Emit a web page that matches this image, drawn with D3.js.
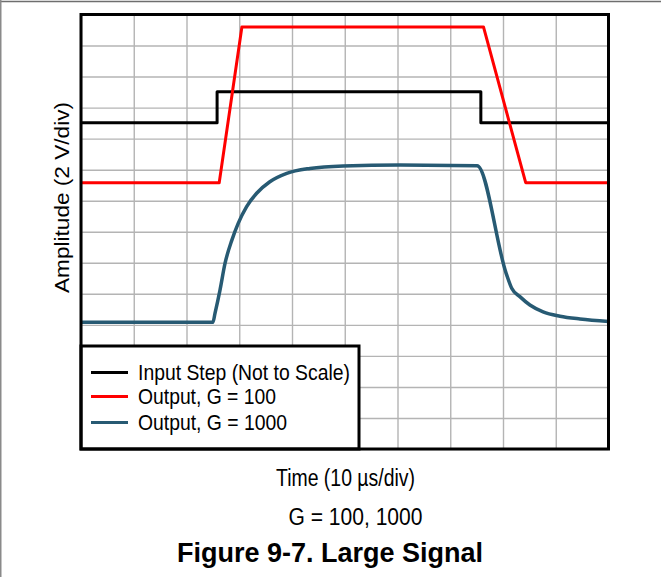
<!DOCTYPE html>
<meta charset="utf-8">
<script src="https://d3js.org/d3.v7.min.js"></script>
<style>
  body { margin: 0; background: #fff; }
  svg { display: block; font-family: "Liberation Sans", Arial, sans-serif; }
</style>
<body>
<div id="chart"></div>
<script>
  // Values, in divisions (x: 10 us/div, y: 2 V/div)
  var xTicks = d3.range(0, 11);
  var yTicks = d3.range(0, 15);

  var inputX = [0, 2.58, 2.58, 7.58, 7.58, 10];
  var inputY = [10.51, 10.51, 11.51, 11.51, 10.51, 10.51];

  var g100X = [0, 2.62, 3.05, 7.63, 8.43, 10];
  var g100Y = [8.58, 8.58, 13.6, 13.6, 8.58, 8.58];

  var g1000X = [0, 2.5, 2.54, 2.635, 2.73, 2.86, 2.98, 3.14, 3.33, 3.58, 3.9, 4.34, 4.97, 6.05, 7.51,
                8.06, 8.165, 8.32, 8.51, 8.76, 9.08, 9.46, 10];
  var g1000Y = [4.08, 4.08, 4.37, 5.12, 5.98, 6.73, 7.27, 7.81, 8.24, 8.61, 8.88, 9.04, 9.12, 9.15, 9.13,
                5.66, 5.18, 4.91, 4.64, 4.42, 4.28, 4.19, 4.11];

  var seriesNames = ["Input Step (Not to Scale)", "Output, G = 100", "Output, G = 1000"];
  var seriesColors = ["#000000", "#ff0000", "#275a73"];

  var W = 661, H = 577;
  var margin = {top: 14.5, left: 81, right: 52.5, bottom: 128};
  var width = W - margin.left - margin.right,
      height = H - margin.top - margin.bottom;

  var svg = d3.select("#chart").append("svg")
      .attr("width", W)
      .attr("height", H);

  // page frame lines (top and left)
  svg.append("line").attr("x1", 0).attr("x2", W).attr("y1", 1.5).attr("y2", 1.5)
    .attr("stroke", "#6e6e6e").attr("stroke-width", 1.5);
  svg.append("line").attr("x1", 0.75).attr("x2", 0.75).attr("y1", 0).attr("y2", H)
    .attr("stroke", "#8a8a8a").attr("stroke-width", 1.5);

  var plot = svg.append("g")
      .attr("transform", "translate(" + margin.left + "," + margin.top + ")");

  var x = d3.scaleLinear().domain([0, 10]).range([0, width]);
  var y = d3.scaleLinear().domain([0, 14]).range([height, 0]);

  // grid
  plot.append("g")
    .attr("class", "grid")
    .attr("transform", "translate(0," + height + ")")
    .call(d3.axisBottom(x).tickValues(xTicks).tickSize(-height).tickFormat(""));
  plot.append("g")
    .attr("class", "grid")
    .call(d3.axisLeft(y).tickValues(yTicks).tickSize(-width).tickFormat(""));
  plot.selectAll(".grid .domain").remove();
  plot.selectAll(".grid line").attr("stroke", "#b4b4b4").attr("stroke-width", 1.4);

  var line = d3.line()
    .x(function(d) { return x(d[0]); })
    .y(function(d) { return y(d[1]); });

  var series = [
    d3.zip(inputX, inputY),
    d3.zip(g100X, g100Y),
    d3.zip(g1000X, g1000Y)
  ];
  var curves = [d3.curveLinear, d3.curveLinear, d3.curveMonotoneX];
  var widths = [3, 3, 3.5];

  series.forEach(function(s, i) {
    plot.append("path")
      .datum(s)
      .attr("fill", "none")
      .attr("stroke", seriesColors[i])
      .attr("stroke-width", widths[i])
      .attr("stroke-linejoin", "round")
      .attr("d", line.curve(curves[i]));
  });

  // legend box in lower left corner
  var legend = plot.append("g");
  legend.append("rect")
    .attr("x", 0)
    .attr("y", 331.5)
    .attr("width", 278)
    .attr("height", height - 331.5)
    .attr("fill", "#fff")
    .attr("stroke", "#000")
    .attr("stroke-width", 3);

  var legendRows = [358, 382, 408];
  var legendLens = [212, 138, 149];
  seriesNames.forEach(function(name, i) {
    legend.append("line")
      .attr("x1", 10).attr("x2", 47)
      .attr("y1", legendRows[i]).attr("y2", legendRows[i])
      .attr("stroke", seriesColors[i])
      .attr("stroke-width", 3);
    legend.append("text")
      .attr("x", 57)
      .attr("y", legendRows[i] + 7)
      .attr("font-size", 22.5)
      .attr("textLength", legendLens[i])
      .attr("lengthAdjust", "spacingAndGlyphs")
      .text(name);
  });

  // plot border
  plot.append("rect")
    .attr("width", width)
    .attr("height", height)
    .attr("fill", "none")
    .attr("stroke", "#000")
    .attr("stroke-width", 3);

  // axis titles
  svg.append("text")
    .attr("transform", "translate(69,197.5) rotate(-90)")
    .attr("text-anchor", "middle")
    .attr("font-size", 21)
    .attr("textLength", 191)
    .attr("lengthAdjust", "spacingAndGlyphs")
    .text("Amplitude (2 V/div)");

  svg.append("text")
    .attr("x", 276).attr("y", 486)
    .attr("font-size", 23)
    .attr("textLength", 139)
    .attr("lengthAdjust", "spacingAndGlyphs")
    .text("Time (10 \u00b5s/div)");

  svg.append("text")
    .attr("x", 288.5).attr("y", 524.5)
    .attr("font-size", 23)
    .attr("textLength", 134)
    .attr("lengthAdjust", "spacingAndGlyphs")
    .text("G = 100, 1000");

  svg.append("text")
    .attr("x", 177).attr("y", 562)
    .attr("font-size", 27)
    .attr("font-weight", "bold")
    .attr("textLength", 306)
    .attr("lengthAdjust", "spacingAndGlyphs")
    .text("Figure 9-7. Large Signal");
</script>
</body>
